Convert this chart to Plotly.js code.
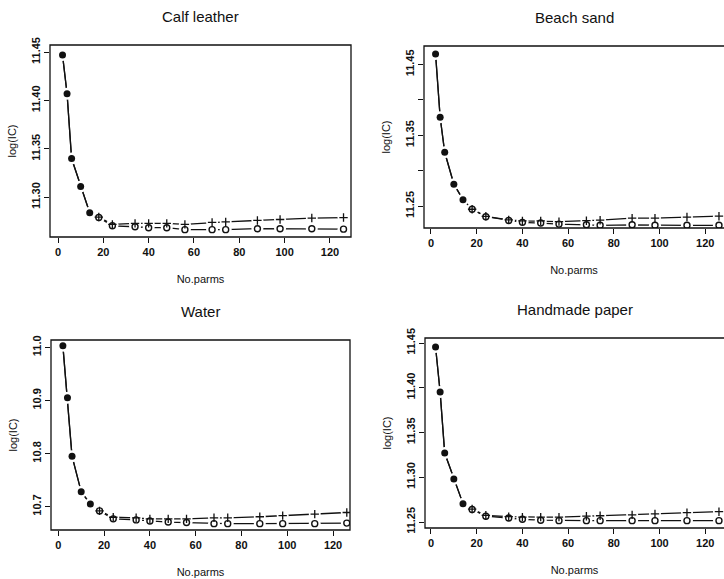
<!DOCTYPE html>
<html>
<head>
<meta charset="utf-8">
<script src="https://cdn.plot.ly/plotly-3.0.1.min.js"></script>
<style>
  html, body { margin: 0; padding: 0; background: #fff; }
  #chart { width: 724px; height: 579px; }
</style>
</head>
<body>
<div id="chart"></div>
<script>
// ---------------- DATA ----------------
const panelTitles = ["Calf leather", "Beach sand", "Water", "Handmade paper"];
const xTitle = "No.parms";
const yTitle = "log(IC)";

// number of parameters: common part (filled dots) and part where the two criteria split
const parmsShared = [2, 4, 6, 10, 14];
const parmsSplit = [18, 24, 34, 40, 48, 56, 68, 74, 88, 98, 112, 126];

// Calf leather
const calfShared = [11.447, 11.407, 11.340, 11.311, 11.284];
const calfO      = [11.279, 11.2705, 11.2695, 11.2685, 11.2685, 11.2665, 11.2665, 11.2665, 11.2675, 11.2675, 11.2675, 11.267];
const calfPlus   = [11.2795, 11.272, 11.273, 11.273, 11.273, 11.272, 11.274, 11.2745, 11.276, 11.277, 11.2785, 11.279];

// Beach sand
const sandShared = [11.465, 11.3755, 11.326, 11.281, 11.259];
const sandO      = [11.2455, 11.235, 11.2295, 11.227, 11.226, 11.2245, 11.2235, 11.2228, 11.2235, 11.2228, 11.2228, 11.2228];
const sandPlus   = [11.2455, 11.2355, 11.2305, 11.229, 11.229, 11.228, 11.2293, 11.230, 11.233, 11.233, 11.2345, 11.2357];

// Water
const waterShared = [11.003, 10.905, 10.795, 10.728, 10.705];
const waterO      = [10.692, 10.677, 10.675, 10.673, 10.671, 10.670, 10.668, 10.668, 10.668, 10.668, 10.668, 10.669];
const waterPlus   = [10.692, 10.680, 10.679, 10.677, 10.677, 10.677, 10.679, 10.679, 10.681, 10.683, 10.686, 10.689];

// Handmade paper
const paperShared = [11.4455, 11.3953, 11.327, 11.298, 11.2705];
const paperO      = [11.264, 11.2565, 11.2545, 11.253, 11.252, 11.2515, 11.2515, 11.2515, 11.2515, 11.2515, 11.2515, 11.2515];
const paperPlus   = [11.2645, 11.2575, 11.256, 11.2555, 11.2555, 11.2555, 11.2565, 11.257, 11.258, 11.259, 11.2605, 11.2615];

// tick labels
const xTicks = [0, 20, 40, 60, 80, 100, 120];
const yTicksCalf = [11.30, 11.35, 11.40, 11.45];
const yTickTextCalf = ["11.30", "11.35", "11.40", "11.45"];
const yTicksSand = [11.25, 11.30, 11.35, 11.40, 11.45];
const yTickTextSand = ["11.25", "", "11.35", "", "11.45"];
const yTicksWater = [10.7, 10.8, 10.9, 11.0];
const yTickTextWater = ["10.7", "10.8", "10.9", "11.0"];
const yTicksPaper = [11.25, 11.30, 11.35, 11.40, 11.45];
const yTickTextPaper = ["11.25", "11.30", "11.35", "11.40", "11.45"];

// ---------------- LAYOUT / STYLE ----------------
const W = 724, H = 579;
const FONT = "Liberation Sans, Arial, Helvetica, sans-serif";
const INK = "#111";

const panels = [
  { shared: calfShared, o: calfO, plus: calfPlus, yt: yTicksCalf, ytt: yTickTextCalf,
    box: [50, 351, 45, 237], xr: [-3.53, 129.3], yr: [11.2589, 11.4574], clipRight: false },
  { shared: sandShared, o: sandO, plus: sandPlus, yt: yTicksSand, ytt: yTickTextSand,
    box: [424, 724, 46, 228], xr: [-3.06, 128.2], yr: [11.219, 11.4762], clipRight: true },
  { shared: waterShared, o: waterO, plus: waterPlus, yt: yTicksWater, ytt: yTickTextWater,
    box: [51, 350, 340, 530], xr: [-3.19, 127.4], yr: [10.656, 11.014], clipRight: false },
  { shared: paperShared, o: paperO, plus: paperPlus, yt: yTicksPaper, ytt: yTickTextPaper,
    box: [425, 724, 338, 528], xr: [-2.62, 128.2], yr: [11.2433, 11.4556], clipRight: true }
];

const layout = {
  width: W, height: H,
  margin: { l: 0, r: 0, t: 0, b: 0, pad: 0 },
  paper_bgcolor: "#fff", plot_bgcolor: "#fff",
  showlegend: false,
  font: { family: FONT, color: INK },
  annotations: [],
  shapes: []
};

const lineLayers = [], gapLayers = [], symLayers = [];

panels.forEach((p, i) => {
  const sfx = i === 0 ? "" : String(i + 1);
  const xa = "x" + sfx, ya = "y" + sfx;
  const xAll = parmsShared.concat(parmsSplit);
  const yO = p.shared.concat(p.o);
  const yP = p.shared.concat(p.plus);

  // connecting lines
  lineLayers.push({ x: xAll, y: yP, xaxis: xa, yaxis: ya, mode: "lines", type: "scatter",
    line: { color: INK, width: 1.3 }, hoverinfo: "skip" });
  lineLayers.push({ x: xAll, y: yO, xaxis: xa, yaxis: ya, mode: "lines", type: "scatter",
    line: { color: INK, width: 1.3 }, hoverinfo: "skip" });
  // white gaps around points (R type "b" style)
  gapLayers.push({ x: xAll, y: yO, xaxis: xa, yaxis: ya, mode: "markers", type: "scatter",
    marker: { color: "#fff", size: 12, opacity: 1, line: { width: 0 } }, hoverinfo: "skip" });
  gapLayers.push({ x: parmsSplit, y: p.plus, xaxis: xa, yaxis: ya, mode: "markers", type: "scatter",
    marker: { color: "#fff", size: 12, opacity: 1, line: { width: 0 } }, hoverinfo: "skip" });
  // symbols
  symLayers.push({ x: parmsShared, y: p.shared, xaxis: xa, yaxis: ya, mode: "markers", type: "scatter",
    marker: { symbol: "circle", color: INK, size: 7, line: { width: 0 } } });
  symLayers.push({ x: parmsSplit, y: p.o, xaxis: xa, yaxis: ya, mode: "markers", type: "scatter",
    marker: { symbol: "circle-open", color: INK, size: 6, line: { color: INK, width: 1.4 } } });
  symLayers.push({ x: parmsSplit, y: p.plus, xaxis: xa, yaxis: ya, mode: "markers", type: "scatter",
    marker: { symbol: "cross-thin-open", color: INK, size: 6, line: { color: INK, width: 1.3 } } });

  const [l, r, t, b] = p.box;
  layout["xaxis" + sfx] = {
    domain: [l / W, r / W], anchor: ya, range: p.xr,
    tickvals: xTicks, ticks: "outside", ticklen: 5, tickwidth: 1, tickcolor: INK,
    showgrid: false, zeroline: false, showline: false,
    tickfont: { family: FONT, size: 11, color: INK, weight: "bold" },
    title: { text: xTitle, font: { family: FONT, size: 11, color: INK }, standoff: 18 }
  };
  layout["yaxis" + sfx] = {
    domain: [1 - b / H, 1 - t / H], anchor: xa, range: p.yr,
    tickvals: p.yt, ticktext: p.ytt, tickangle: -90,
    ticks: "outside", ticklen: 5, tickwidth: 1, tickcolor: INK,
    showgrid: false, zeroline: false, showline: false,
    tickfont: { family: FONT, size: 11, color: INK, weight: "bold" },
    title: { text: yTitle, font: { family: FONT, size: 11, color: INK }, standoff: 10 }
  };
  // frame (box); right-hand panels run off the page edge
  layout.shapes.push({ type: "rect", xref: "paper", yref: "paper",
    x0: l / W, x1: p.clipRight ? 1.02 : r / W, y0: 1 - b / H, y1: 1 - t / H,
    line: { color: INK, width: 1.3 }, fillcolor: "rgba(0,0,0,0)" });
  // panel title
  const cx = p.clipRight ? (l + 725) / 2 : (l + r) / 2;
  layout.annotations.push({ text: panelTitles[i], xref: "paper", yref: "paper",
    x: cx / W, y: 1 - (t - 28.5) / H, xanchor: "center", yanchor: "middle", showarrow: false,
    font: { family: FONT, size: 15, color: INK } });
});

Plotly.newPlot("chart", lineLayers.concat(gapLayers, symLayers), layout, { displayModeBar: false, staticPlot: true });
</script>
</body>
</html>
